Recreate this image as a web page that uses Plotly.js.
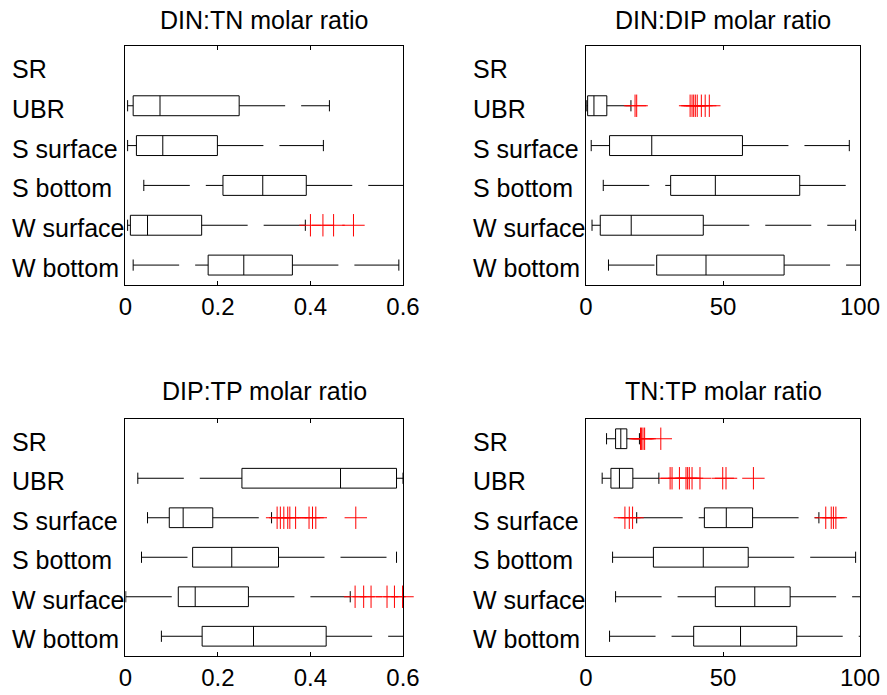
<!DOCTYPE html>
<html>
<head>
<meta charset="utf-8">
<script src="https://cdn.plot.ly/plotly-3.0.1.min.js"></script>
<style>html,body{margin:0;padding:0;background:#fff;}#chart{width:887px;height:695px;}</style>
</head>
<body>
<div id="chart"></div>
<script>
// ---- categories (top to bottom) ----
const categories = ["SR", "UBR", "S surface", "S bottom", "W surface", "W bottom"];

// ---- panel titles ----
const titles = ["DIN:TN molar ratio", "DIN:DIP molar ratio", "DIP:TP molar ratio", "TN:TP molar ratio"];

// ---- tick labels ----
const ratioTicks = [0, 0.2, 0.4, 0.6];
const ratioTickText = ["0", "0.2", "0.4", "0.6"];
const molTicks = [0, 50, 100];
const molTickText = ["0", "50", "100"];

// ---- DIN:TN ----
const dintnLow  = [null, 0.005, 0.005, 0.040, 0.005, 0.017];
const dintnQ1   = [null, 0.017, 0.024, 0.211, 0.011, 0.179];
const dintnMed  = [null, 0.075, 0.081, 0.297, 0.048, 0.256];
const dintnQ3   = [null, 0.246, 0.199, 0.391, 0.165, 0.361];
const dintnHigh = [null, 0.441, 0.428, 0.620, 0.389, 0.591];
const dintnOutVal = [0.400, 0.427, 0.450, 0.493];
const dintnOutCat = ["W surface", "W surface", "W surface", "W surface"];

// ---- DIN:DIP ----
const dindipLow  = [null, 0.3, 1.9, 6.3, 2.2, 8.2];
const dindipQ1   = [null, 0.6, 8.6, 30.9, 5.2, 25.8];
const dindipMed  = [null, 2.9, 24.0, 47.2, 16.5, 43.8];
const dindipQ3   = [null, 7.6, 57.1, 78.0, 42.8, 72.3];
const dindipHigh = [null, 16.4, 96.1, 101, 98.4, 102];
const dindipOutVal = [17.9, 18.5, 38.0, 38.7, 39.3, 39.9, 40.6, 42.1, 43.5, 45.0];
const dindipOutCat = ["UBR", "UBR", "UBR", "UBR", "UBR", "UBR", "UBR", "UBR", "UBR", "UBR"];

// ---- DIP:TP ----
const diptpLow  = [null, 0.027, 0.048, 0.035, 0.001, 0.078];
const diptpQ1   = [null, 0.252, 0.095, 0.1455, 0.1145, 0.166];
const diptpMed  = [null, 0.465, 0.125, 0.230, 0.151, 0.277];
const diptpQ3   = [null, 0.586, 0.189, 0.331, 0.266, 0.434];
const diptpHigh = [null, 0.600, 0.316, 0.586, 0.486, 0.610];
const diptpOutVal = [0.328, 0.335, 0.3425, 0.351, 0.3555, 0.368, 0.397, 0.4045, 0.4116, 0.498,
                     0.4965, 0.515, 0.531, 0.5655, 0.5815, 0.599];
const diptpOutCat = ["S surface", "S surface", "S surface", "S surface", "S surface", "S surface", "S surface", "S surface", "S surface", "S surface",
                     "W surface", "W surface", "W surface", "W surface", "W surface", "W surface"];

// ---- TN:TP ----
const tntpLow  = [7.5, 5.9, 18.5, 9.7, 10.8, 8.6];
const tntpQ1   = [10.8, 9.1, 43.2, 24.6, 47.2, 39.3];
const tntpMed  = [12.7, 12.2, 51.2, 42.8, 61.6, 56.4];
const tntpQ3   = [14.9, 17.1, 60.8, 59.2, 74.5, 76.9];
const tntpHigh = [19.5, 26.6, 85.0, 98.4, 101, 101];
const tntpOutVal = [19.9, 20.3, 20.8, 21.4, 27.3,
                    30.7, 31.4, 34.1, 36.5, 37.1, 37.7, 38.7, 41.6, 49.9, 51.1, 61.1,
                    14.2, 15.8, 17.0, 87.5, 89.5, 90.3, 91.2];
const tntpOutCat = ["SR", "SR", "SR", "SR", "SR",
                    "UBR", "UBR", "UBR", "UBR", "UBR", "UBR", "UBR", "UBR", "UBR", "UBR", "UBR",
                    "S surface", "S surface", "S surface", "S surface", "S surface", "S surface", "S surface"];

const FONT = "Liberation Sans, Arial, Helvetica, sans-serif";
const traces = [];
const annotations = [];

function pos(cat) { return categories.indexOf(cat) + 1; }

function addPanel(xa, ya, low, q1, med, q3, high, outVal, outCat) {
  const by = [], bq1 = [], bmed = [], bq3 = [];
  const wx = [], wy = [], cx = [], cy = [];
  for (let i = 0; i < categories.length; i++) {
    if (q1[i] === null) continue;
    const p = pos(categories[i]);
    by.push(p); bq1.push(q1[i]); bmed.push(med[i]); bq3.push(q3[i]);
    wx.push(low[i], q1[i], null, q3[i], high[i], null);
    wy.push(p, p, null, p, p, null);
    cx.push(low[i], high[i]);
    cy.push(p, p);
  }
  traces.push({
    type: "box", orientation: "h", xaxis: xa, yaxis: ya,
    y: by, q1: bq1, median: bmed, q3: bq3, lowerfence: bq1, upperfence: bq3,
    width: 0.5, whiskerwidth: 0, boxpoints: false,
    line: {color: "#000", width: 1}, fillcolor: "rgba(255,255,255,0)",
    showlegend: false, hoverinfo: "skip"
  });
  traces.push({
    type: "scatter", mode: "lines", xaxis: xa, yaxis: ya, x: wx, y: wy,
    connectgaps: false, line: {color: "#000", width: 1, dash: "46px,16px"},
    showlegend: false, hoverinfo: "skip"
  });
  traces.push({
    type: "scatter", mode: "markers", xaxis: xa, yaxis: ya, x: cx, y: cy,
    marker: {symbol: "line-ns", size: 8, line: {color: "#000", width: 1}},
    cliponaxis: true, showlegend: false, hoverinfo: "skip"
  });
  traces.push({
    type: "scatter", mode: "markers", xaxis: xa, yaxis: ya,
    x: outVal, y: outCat.map(pos),
    marker: {symbol: "cross-thin", size: 16, color: "#ff0000", line: {color: "#ff0000", width: 1}},
    cliponaxis: false, showlegend: false, hoverinfo: "skip"
  });
}

addPanel("x", "y", dintnLow, dintnQ1, dintnMed, dintnQ3, dintnHigh, dintnOutVal, dintnOutCat);
addPanel("x2", "y2", dindipLow, dindipQ1, dindipMed, dindipQ3, dindipHigh, dindipOutVal, dindipOutCat);
addPanel("x3", "y3", diptpLow, diptpQ1, diptpMed, diptpQ3, diptpHigh, diptpOutVal, diptpOutCat);
addPanel("x4", "y4", tntpLow, tntpQ1, tntpMed, tntpQ3, tntpHigh, tntpOutVal, tntpOutCat);

const W = 887, H = 695;
const colX = [[125.3 / W, 403 / W], [586 / W, 860 / W]];
const rowY = [[(H - 285) / H, (H - 46) / H], [(H - 656) / H, (H - 419) / H]];

function xAxis(dom, anchor, range, tv, tt) {
  return {domain: dom, anchor: anchor, range: range, tickvals: tv, ticktext: tt,
    showline: true, linecolor: "#000", linewidth: 1, mirror: "ticks",
    ticks: "inside", ticklen: 4, tickcolor: "#000", showgrid: false, zeroline: false,
    tickfont: {family: FONT, size: 24, color: "#000"}, fixedrange: true};
}
function yAxis(dom, anchor) {
  return {domain: dom, anchor: anchor, range: [6.5, 0.5], showticklabels: false, ticks: "",
    showline: true, linecolor: "#000", linewidth: 1, mirror: true,
    showgrid: false, zeroline: false, fixedrange: true};
}

const panels = [
  {xa: "x", ya: "y", c: 0, r: 0},
  {xa: "x2", ya: "y2", c: 1, r: 0},
  {xa: "x3", ya: "y3", c: 0, r: 1},
  {xa: "x4", ya: "y4", c: 1, r: 1}
];
const labelX = [10 / W, 470.7 / W];
const titleY = [1 - 20 / H, 1 - 391 / H];

panels.forEach((p, k) => {
  annotations.push({
    text: titles[k], xref: "paper", yref: "paper",
    x: (colX[p.c][0] + colX[p.c][1]) / 2, y: titleY[p.r],
    xanchor: "center", yanchor: "middle", showarrow: false,
    font: {family: FONT, size: 25, color: "#000"}
  });
  categories.forEach((cat) => {
    annotations.push({
      text: cat, xref: "paper", yref: p.ya, x: labelX[p.c], y: pos(cat),
      xanchor: "left", yanchor: "middle", showarrow: false, yshift: -3,
      font: {family: FONT, size: 25, color: "#000"}
    });
  });
});

const layout = {
  width: W, height: H, margin: {l: 0, r: 0, t: 0, b: 0},
  paper_bgcolor: "#fff", plot_bgcolor: "#fff", showlegend: false,
  font: {family: FONT, size: 24, color: "#000"},
  xaxis: xAxis(colX[0], "y", [0, 0.6], ratioTicks, ratioTickText),
  yaxis: yAxis(rowY[0], "x"),
  xaxis2: xAxis(colX[1], "y2", [0, 100], molTicks, molTickText),
  yaxis2: yAxis(rowY[0], "x2"),
  xaxis3: xAxis(colX[0], "y3", [0, 0.6], ratioTicks, ratioTickText),
  yaxis3: yAxis(rowY[1], "x3"),
  xaxis4: xAxis(colX[1], "y4", [0, 100], molTicks, molTickText),
  yaxis4: yAxis(rowY[1], "x4"),
  annotations: annotations
};

Plotly.newPlot("chart", traces, layout, {displayModeBar: false, staticPlot: true});
</script>
</body>
</html>
